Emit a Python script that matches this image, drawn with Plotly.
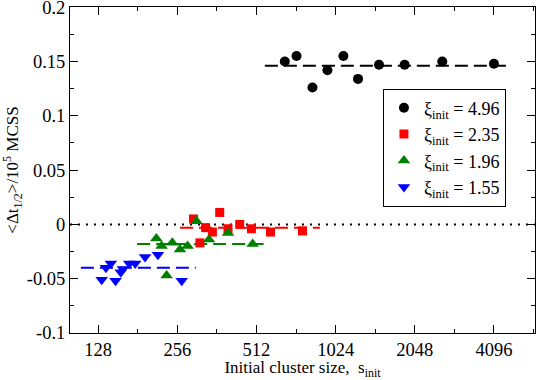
import plotly.graph_objects as go

# cluster sizes and <dt_1/2>/1e5 for each initial xi
size_496 = [656, 727, 836, 953, 1096, 1246, 1497, 1874, 2606, 4096]
dt_496 = [0.150, 0.155, 0.126, 0.142, 0.155, 0.134, 0.147, 0.147, 0.150, 0.148]

size_235 = [295, 312, 328, 348, 371, 399, 442, 490, 579, 766]
dt_235 = [0.005, -0.017, -0.003, -0.007, 0.011, -0.004, 0.000, -0.004, -0.007, -0.006]

size_196 = [213, 223, 233, 245, 262, 280, 303, 338, 399, 495]
dt_196 = [-0.013, -0.020, -0.047, -0.017, -0.023, -0.020, 0.003, -0.014, -0.008, -0.018]

size_155 = [132, 137, 143, 149, 156, 159, 168, 177, 193, 216, 266]
dt_155 = [-0.051, -0.040, -0.036, -0.052, -0.044, -0.041, -0.036, -0.036, -0.030, -0.028, -0.052]

# mean lines (x extent, mean value)
mean_x_496 = [551, 4640]
mean_496 = 0.146
mean_x_235 = [262, 892]
mean_235 = -0.003
mean_x_196 = [180, 545]
mean_196 = -0.018
mean_x_155 = [110, 301]
mean_155 = -0.040

x_ticks = [128, 256, 512, 1024, 2048, 4096]
x_minor = [181, 362, 724, 1448, 2896, 5793]
y_ticks = [-0.1, -0.05, 0, 0.05, 0.1, 0.15, 0.2]
y_labels = ["-0.1", "-0.05", "0", "0.05", "0.1", "0.15", "0.2"]
x_range = [100, 5870]

font = "Liberation Serif, Times New Roman, serif"

fig = go.Figure()

# zero reference line
fig.add_trace(go.Scatter(x=x_range, y=[0, 0], mode="lines", showlegend=False,
                         line=dict(color="black", width=2, dash="2px,6px"), hoverinfo="skip"))

series = [
    ("4.96", size_496, dt_496, mean_x_496, mean_496, "black", "circle", 10),
    ("2.35", size_235, dt_235, mean_x_235, mean_235, "red", "square", 9),
    ("1.96", size_196, dt_196, mean_x_196, mean_196, "green", "triangle-up", 11),
    ("1.55", size_155, dt_155, mean_x_155, mean_155, "blue", "triangle-down", 11),
]

for name, xs, ys, mx, my, col, sym, sz in series:
    fig.add_trace(go.Scatter(x=mx, y=[my, my], mode="lines", showlegend=False,
                             line=dict(color=col, width=2, dash="13px,6px")))
for name, xs, ys, mx, my, col, sym, sz in series:
    fig.add_trace(go.Scatter(x=xs, y=ys, mode="markers", name="ξ<sub>init</sub> = " + name,
                             marker=dict(color=col, symbol=sym, size=sz)))

axis_common = dict(showline=True, linecolor="black", linewidth=1, mirror="allticks",
                   ticks="inside", ticklen=8, tickcolor="black", showgrid=False, zeroline=False,
                   ticklabeloverflow="allow", automargin=False,
                   tickfont=dict(family=font, size=18.5, color="black"))

fig.update_xaxes(type="log", range=[2, 3.7686], tickvals=x_ticks, ticktext=[str(v) for v in x_ticks],
                 minor=dict(tickvals=x_minor, ticks="inside", ticklen=4, tickcolor="black"),
                 title=dict(text="Initial cluster size,\u00a0\u00a0s<sub>init</sub>",
                            font=dict(family=font, size=17, color="black"), standoff=0),
                 **axis_common)
fig.update_yaxes(range=[-0.1, 0.2002], tickvals=y_ticks, ticktext=y_labels,
                 minor=dict(dtick=0.025, ticks="inside", ticklen=4, tickcolor="black"),
                 title=dict(text="&lt;Δt<sub>1/2</sub>&gt;/10<sup>5</sup> MCSS",
                            font=dict(family=font, size=17, color="black"), standoff=4),
                 **axis_common)

fig.update_layout(
    width=540, height=380,
    margin=dict(l=70, r=5, t=7, b=47),
    plot_bgcolor="white", paper_bgcolor="white",
    font=dict(family=font, size=17, color="black"),
    legend=dict(x=0.673, y=0.75, xanchor="left", yanchor="top",
                bgcolor="white", bordercolor="black", borderwidth=1,
                font=dict(family=font, size=18, color="black"),
                itemwidth=30, tracegroupgap=0),
)

fig.write_html("out.html", config={"displayModeBar": False},
               post_script="document.body.style.margin='0';")
